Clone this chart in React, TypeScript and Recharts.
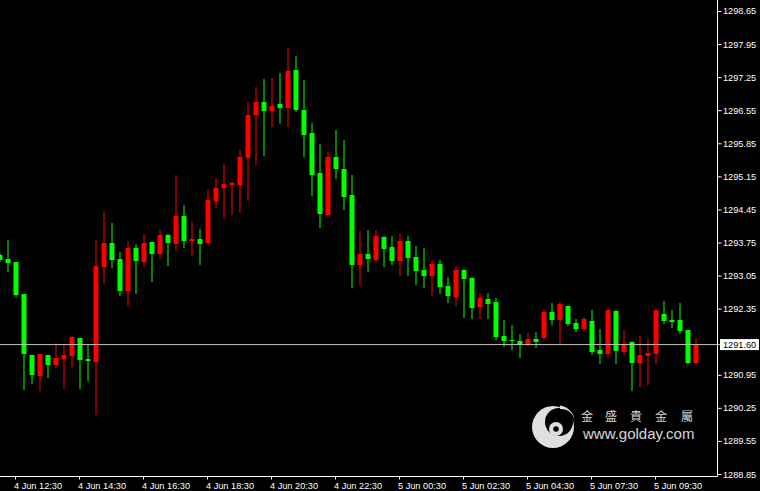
import React from 'react';
import { ComposedChart, Bar, XAxis, YAxis, ReferenceLine } from 'recharts';

const times = [
  '4 Jun 12:00', '4 Jun 12:15', '4 Jun 12:30', '4 Jun 12:45', '4 Jun 13:00', '4 Jun 13:15', '4 Jun 13:30', '4 Jun 13:45',
  '4 Jun 14:00', '4 Jun 14:15', '4 Jun 14:30', '4 Jun 14:45', '4 Jun 15:00', '4 Jun 15:15', '4 Jun 15:30', '4 Jun 15:45',
  '4 Jun 16:00', '4 Jun 16:15', '4 Jun 16:30', '4 Jun 16:45', '4 Jun 17:00', '4 Jun 17:15', '4 Jun 17:30', '4 Jun 17:45',
  '4 Jun 18:00', '4 Jun 18:15', '4 Jun 18:30', '4 Jun 18:45', '4 Jun 19:00', '4 Jun 19:15', '4 Jun 19:30', '4 Jun 19:45',
  '4 Jun 20:00', '4 Jun 20:15', '4 Jun 20:30', '4 Jun 20:45', '4 Jun 21:00', '4 Jun 21:15', '4 Jun 21:30', '4 Jun 21:45',
  '4 Jun 22:00', '4 Jun 22:15', '4 Jun 22:30', '4 Jun 22:45', '4 Jun 23:00', '4 Jun 23:15', '4 Jun 23:30', '4 Jun 23:45',
  '5 Jun 00:00', '5 Jun 00:15', '5 Jun 00:30', '5 Jun 00:45', '5 Jun 01:00', '5 Jun 01:15', '5 Jun 01:30', '5 Jun 01:45',
  '5 Jun 02:00', '5 Jun 02:15', '5 Jun 02:30', '5 Jun 02:45', '5 Jun 03:00', '5 Jun 03:15', '5 Jun 03:30', '5 Jun 03:45',
  '5 Jun 04:00', '5 Jun 04:15', '5 Jun 04:30', '5 Jun 04:45', '5 Jun 06:00', '5 Jun 06:15', '5 Jun 06:30', '5 Jun 06:45',
  '5 Jun 07:00', '5 Jun 07:15', '5 Jun 07:30', '5 Jun 07:45', '5 Jun 08:00', '5 Jun 08:15', '5 Jun 08:30', '5 Jun 08:45',
  '5 Jun 09:00', '5 Jun 09:15', '5 Jun 09:30', '5 Jun 09:45', '5 Jun 10:00', '5 Jun 10:15', '5 Jun 10:30', '5 Jun 10:45',
];

const opens = [
  1293.49, 1293.41, 1293.34, 1292.66, 1291.38, 1290.94, 1291.38, 1291.16, 1291.29, 1291.35,
  1291.73, 1291.30, 1291.23, 1293.24, 1293.74, 1293.41, 1292.73, 1293.65, 1293.34, 1293.77,
  1293.51, 1293.92, 1293.72, 1294.32, 1293.79, 1293.83, 1293.74, 1294.63, 1294.92, 1294.98,
  1294.97, 1295.55, 1296.46, 1296.74, 1296.54, 1296.69, 1296.61, 1297.41, 1296.56, 1296.08,
  1295.23, 1294.34, 1295.56, 1295.32, 1294.76, 1293.28, 1293.51, 1293.40, 1293.88, 1293.67,
  1293.37, 1293.79, 1293.46, 1293.17, 1293.05, 1293.30, 1292.84, 1292.61, 1293.17, 1293.00,
  1292.40, 1292.56, 1292.50, 1291.79, 1291.70, 1291.67, 1291.60, 1291.71, 1291.74, 1292.29,
  1292.12, 1292.41, 1292.06, 1291.92, 1292.10, 1291.48, 1291.39, 1292.31, 1291.45, 1291.66,
  1291.20, 1291.36, 1291.41, 1292.24, 1292.12, 1292.12, 1291.90, 1291.21,
];

const highs = [
  1293.53, 1293.81, 1293.34, 1292.68, 1291.38, 1291.39, 1291.38, 1291.64, 1291.59, 1291.78,
  1291.73, 1291.59, 1293.81, 1294.40, 1294.18, 1293.56, 1293.80, 1293.72, 1293.93, 1293.77,
  1294.02, 1293.95, 1295.19, 1294.55, 1294.22, 1294.04, 1294.89, 1295.13, 1295.42, 1295.04,
  1295.71, 1296.74, 1297.05, 1297.22, 1297.24, 1297.35, 1297.87, 1297.70, 1297.20, 1296.28,
  1295.84, 1295.68, 1296.15, 1295.93, 1295.19, 1294.00, 1294.02, 1294.02, 1293.89, 1293.89,
  1293.93, 1293.89, 1293.68, 1293.65, 1293.39, 1293.39, 1293.02, 1293.26, 1293.21, 1293.03,
  1292.70, 1292.70, 1292.58, 1292.12, 1292.01, 1291.82, 1291.85, 1291.87, 1292.34, 1292.48,
  1292.50, 1292.41, 1292.15, 1292.18, 1292.33, 1291.93, 1292.35, 1292.33, 1291.90, 1291.68,
  1291.78, 1291.71, 1292.34, 1292.52, 1292.33, 1292.49, 1291.90, 1291.73,
];

const lows = [
  1293.36, 1293.16, 1292.63, 1290.66, 1290.79, 1290.63, 1290.92, 1291.12, 1290.68, 1291.14,
  1290.68, 1290.85, 1290.14, 1292.90, 1293.24, 1292.65, 1292.41, 1292.69, 1293.27, 1292.95,
  1293.44, 1293.28, 1293.60, 1293.67, 1293.49, 1293.30, 1293.72, 1294.51, 1294.28, 1294.36,
  1294.40, 1294.66, 1295.43, 1295.61, 1296.22, 1296.29, 1296.22, 1296.55, 1295.59, 1294.76,
  1294.08, 1294.32, 1295.12, 1294.46, 1292.82, 1292.88, 1293.16, 1293.37, 1293.27, 1293.30,
  1293.07, 1293.07, 1292.89, 1292.82, 1292.65, 1292.69, 1292.50, 1292.43, 1292.19, 1292.17,
  1292.17, 1292.17, 1291.71, 1291.57, 1291.50, 1291.34, 1291.59, 1291.54, 1291.71, 1292.03,
  1291.64, 1292.01, 1291.89, 1291.90, 1291.39, 1291.22, 1291.35, 1291.21, 1291.41, 1290.63,
  1290.72, 1290.76, 1291.21, 1292.06, 1291.97, 1291.85, 1291.21, 1291.20,
];

const closes = [
  1293.40, 1293.33, 1292.65, 1291.39, 1290.95, 1291.39, 1291.16, 1291.32, 1291.38, 1291.75,
  1291.27, 1291.26, 1293.26, 1293.75, 1293.40, 1292.73, 1293.65, 1293.36, 1293.75, 1293.51,
  1293.92, 1293.75, 1294.32, 1293.79, 1293.83, 1293.72, 1294.66, 1294.92, 1295.00, 1295.03,
  1295.56, 1296.46, 1296.74, 1296.55, 1296.65, 1296.61, 1297.39, 1296.56, 1296.03, 1295.19,
  1294.37, 1295.56, 1295.31, 1294.73, 1293.29, 1293.51, 1293.41, 1293.89, 1293.63, 1293.36,
  1293.79, 1293.44, 1293.15, 1293.05, 1293.30, 1292.82, 1292.63, 1293.17, 1292.98, 1292.38,
  1292.58, 1292.45, 1291.75, 1291.68, 1291.67, 1291.60, 1291.71, 1291.65, 1292.29, 1292.12,
  1292.45, 1292.03, 1291.93, 1292.14, 1291.45, 1291.40, 1292.33, 1291.46, 1291.62, 1291.20,
  1291.38, 1291.42, 1292.33, 1292.10, 1292.08, 1291.88, 1291.21, 1291.60,
];

const xTickLabels = [
  '4 Jun 12:30', '4 Jun 14:30', '4 Jun 16:30', '4 Jun 18:30', '4 Jun 20:30', '4 Jun 22:30',
  '5 Jun 00:30', '5 Jun 02:30', '5 Jun 04:30', '5 Jun 07:30', '5 Jun 09:30',
];

const yTickLabels = [
  1298.65, 1297.95, 1297.25, 1296.55, 1295.85, 1295.15, 1294.45, 1293.75, 1293.05, 1292.35,
  1290.95, 1290.25, 1289.55, 1288.85,
];

const currentPrice = 1291.60;
const yDomain = [1288.8077, 1298.8934];

const UP = '#ff0000';
const DOWN = '#00ff00';
const FONT = '"Liberation Sans", Arial, sans-serif';

const data = times.map((time, i) => ({
  time,
  open: opens[i],
  high: highs[i],
  low: lows[i],
  close: closes[i],
  range: [lows[i], highs[i]],
}));

const Candle = (props: any) => {
  const { x, y, width, height, payload } = props;
  if (x == null || y == null || !payload) return null;
  const { open, close, high, low } = payload;
  const yHigh = Math.min(y, y + height);
  const yLow = Math.max(y, y + height);
  const span = high - low || 1;
  const toY = (v: number) => yHigh + ((high - v) / span) * (yLow - yHigh);
  const color = close >= open ? UP : DOWN;
  const cx = x + width / 2;
  const top = Math.round(Math.min(toY(open), toY(close)));
  const bottom = Math.round(Math.max(toY(open), toY(close)));
  const bh = Math.max(1, bottom - top);
  return (
    <g>
      <line x1={cx} x2={cx} y1={Math.round(yHigh)} y2={Math.round(yLow) + 1} stroke={color} strokeWidth={1} />
      <rect x={x} y={top} width={width} height={bh} fill={color} />
    </g>
  );
};

const XTick = (props: any) => {
  const { x, y, payload } = props;
  return (
    <g>
      <line x1={x} x2={x} y1={y} y2={y + 3} stroke="#ffffff" strokeWidth={1} />
      <text x={x - 1.5} y={y + 12.5} fill="#ffffff" fontSize={9.2} fontFamily={FONT}>
        {payload.value}
      </text>
    </g>
  );
};

const YTick = (props: any) => {
  const { x, y, payload } = props;
  const v = Number(payload.value);
  if (Math.abs(v - currentPrice) < 1e-6) {
    return (
      <g>
        <line x1={x} x2={x + 3} y1={y} y2={y} stroke="#c0c0c0" strokeWidth={1} />
        <rect x={x + 2.5} y={y - 5.5} width={39} height={11} fill="#ffffff" />
        <text x={x + 5.5} y={y + 3.2} fill="#000000" fontSize={9.2} fontFamily={FONT}>
          {v.toFixed(2)}
        </text>
      </g>
    );
  }
  return (
    <g>
      <line x1={x} x2={x + 4} y1={y} y2={y} stroke="#ffffff" strokeWidth={1} />
      <text x={x + 5.5} y={y + 3} fill="#ffffff" fontSize={9.2} fontFamily={FONT}>
        {v.toFixed(2)}
      </text>
    </g>
  );
};

const Watermark = () => (
  <svg
    width={760}
    height={491}
    style={{ position: 'absolute', left: 0, top: 0, pointerEvents: 'none' }}
  >
    <g opacity={0.92}>
      <circle cx={553} cy={427} r={21} fill="#f2f2f2" />
      <circle cx={559} cy={422} r={14} fill="#000000" />
      <path d="M 560 405.5 A 17.5 17.5 0 0 1 575 424 A 14 14 0 0 0 560 409 Z" fill="#f2f2f2" />
      <circle cx={556} cy={429} r={7} fill="#f2f2f2" />
      <circle cx={556} cy={429} r={2.8} fill="#000000" />
      <text y={421} fill="#e6e6e6" fontSize={12} fontFamily='"Noto Sans CJK TC", sans-serif'>
        <tspan x={581}>金</tspan>
        <tspan x={605}>盛</tspan>
        <tspan x={630}>貴</tspan>
        <tspan x={655}>金</tspan>
        <tspan x={681}>屬</tspan>
      </text>
      <text x={583} y={439} fill="#e6e6e6" fontSize={15} fontFamily={FONT}>
        www.golday.com
      </text>
    </g>
  </svg>
);

export default function App() {
  return (
    <div style={{ position: 'fixed', left: 0, top: 0, width: 760, height: 491, background: '#000000' }}>
      <ComposedChart
        width={760}
        height={491}
        data={data}
        margin={{ top: 0, right: 0, bottom: 0, left: 0 }}
        style={{ background: '#000000' }}
      >
        <XAxis
          dataKey="time"
          height={14.5}
          padding={{ left: -4.5, right: 18 }}
          ticks={xTickLabels}
          interval={0}
          tick={<XTick />}
          tickLine={false}
          tickSize={0}
          tickMargin={0}
          axisLine={{ stroke: '#ffffff', strokeWidth: 1 }}
        />
        <YAxis
          orientation="right"
          type="number"
          width={42.5}
          domain={yDomain}
          allowDataOverflow
          ticks={[...yTickLabels, currentPrice]}
          interval={0}
          tick={<YTick />}
          tickLine={false}
          tickSize={0}
          tickMargin={0}
          axisLine={{ stroke: '#ffffff', strokeWidth: 1 }}
        />
        <Bar dataKey="range" barSize={5} isAnimationActive={false} shape={<Candle />} />
        <ReferenceLine y={currentPrice} stroke="#c0c0c0" strokeWidth={1} />
      </ComposedChart>
      <Watermark />
    </div>
  );
}
